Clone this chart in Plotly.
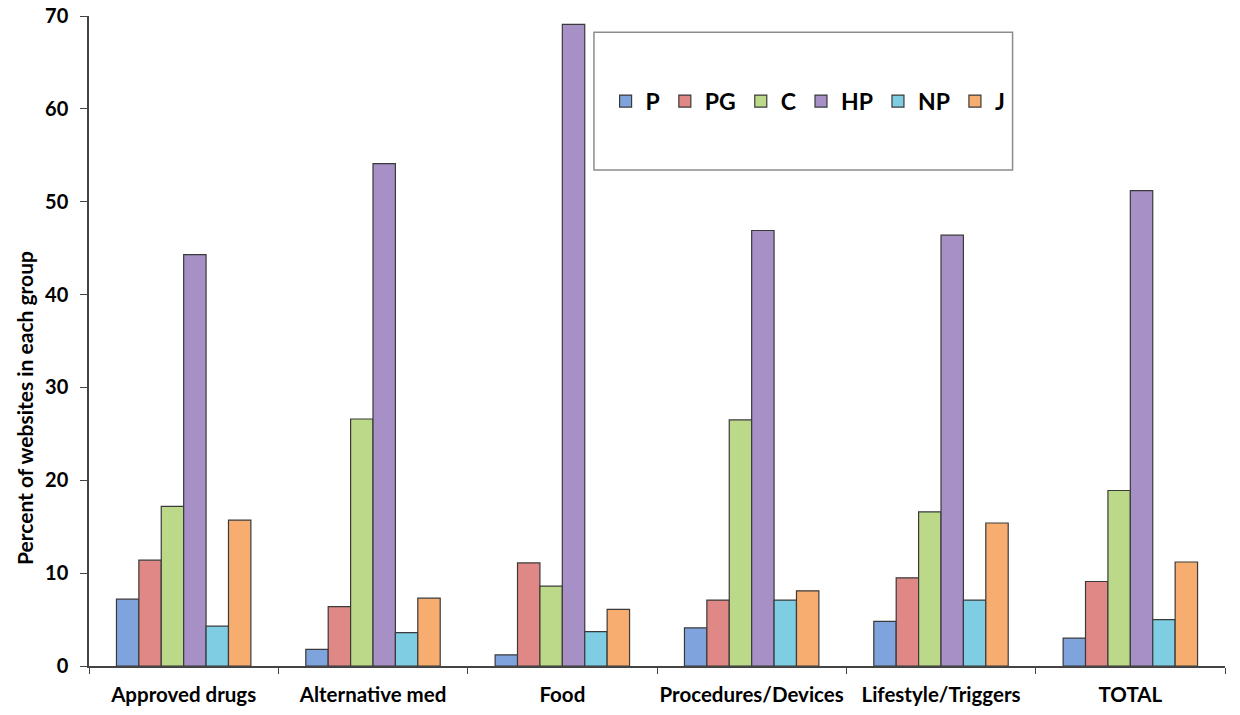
import plotly.graph_objects as go

categories = ["Approved drugs", "Alternative med", "Food", "Procedures/Devices", "Lifestyle/Triggers", "TOTAL"]
series_names = ["P", "PG", "C", "HP", "NP", "J"]

P  = [7.2, 1.8, 1.2, 4.1, 4.8, 3.0]
PG = [11.4, 6.4, 11.1, 7.1, 9.5, 9.1]
C  = [17.2, 26.6, 8.6, 26.5, 16.6, 18.9]
HP = [44.3, 54.1, 69.1, 46.9, 46.4, 51.2]
NP = [4.3, 3.6, 3.7, 7.1, 7.1, 5.0]
J  = [15.7, 7.3, 6.1, 8.1, 15.4, 11.2]

y_ticks = [0, 10, 20, 30, 40, 50, 60, 70]
y_title = "Percent of websites in each group"

values = [P, PG, C, HP, NP, J]
colors = ["#7fa3dc", "#e08886", "#bcd98a", "#a690c6", "#7ecde3", "#f8ad70"]

fig = go.Figure()
for name, vals, col in zip(series_names, values, colors):
    fig.add_trace(go.Bar(
        x=categories, y=vals, name=name,
        marker=dict(color=col, line=dict(color="#3a3a3a", width=1.2)),
    ))

font_family = "Lato, 'Open Sans', sans-serif"

fig.update_layout(
    width=1240, height=715,
    margin=dict(l=81, r=23, t=8, b=57),
    paper_bgcolor="white", plot_bgcolor="white",
    barmode="group", bargap=0.29, bargroupgap=0,
    font=dict(family=font_family, color="black"),
    showlegend=True,
    legend=dict(
        orientation="h", x=0.633, y=0.869, xanchor="center", yanchor="middle",
        font=dict(size=23, family=font_family, weight="bold"),
        bgcolor="rgba(0,0,0,0)", itemwidth=30, traceorder="normal",
    ),
    xaxis=dict(
        automargin=False, tickangle=0, ticklabeloverflow="allow",
        showline=True, linecolor="#444", linewidth=1.5,
        ticks="outside", tickson="boundaries", ticklen=6, tickcolor="#444",
        tickfont=dict(size=20.5, family=font_family, weight="bold"),
        ticklabelstandoff=10,
        showgrid=False,
    ),
    yaxis=dict(
        automargin=False, ticklabeloverflow="allow",
        range=[0, 70], tickvals=y_ticks,
        showline=True, linecolor="#444", linewidth=1.5,
        ticks="outside", ticklen=7, tickcolor="#444",
        tickfont=dict(size=20, family=font_family, weight="bold"),
        ticklabelstandoff=8,
        showgrid=False, zeroline=False,
    ),
    annotations=[dict(
        text=y_title, textangle=-90, xref="paper", yref="paper",
        x=-0.0563, y=0.397, xanchor="center", yanchor="middle", showarrow=False,
        font=dict(size=21, family=font_family, weight="bold", color="black"),
    )],
    shapes=[dict(type="rect", xref="paper", yref="paper",
                 x0=0.4445, x1=0.813, y0=0.763, y1=0.975,
                 line=dict(color="#8c8c8c", width=1.5), fillcolor="rgba(0,0,0,0)")],
)

fig.write_html("out.html")
